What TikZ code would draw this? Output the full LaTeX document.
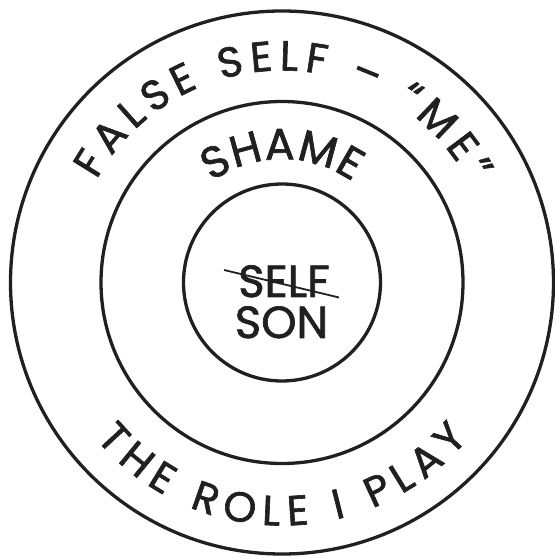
\documentclass[tikz,border=0pt]{standalone}
\usepackage{fontspec}
\usepackage{tikz}
\usetikzlibrary{calc, decorations.text}
\newfontfamily\ringfont[FakeBold=1.5]{Poppins}
\definecolor{ink}{RGB}{35, 31, 32}

\begin{document}
\begin{tikzpicture}[x=1pt, y=1pt,
    ring/.style={line width=3.3pt, ink},
    arctext/.style={decorate, decoration={text along path, text align={fit to path}, text color=ink}},
    word/.style={inner sep=0pt, text=ink, font=\ringfont\fontsize{45}{45}\selectfont},
    strike/.style={line width=1.8pt, ink}]
\useasboundingbox (0,0) rectangle (555,558);
\coordinate (c) at (282,275.5);
% three rings
\draw[ring] (c) circle (271.5);
\draw[ring] (c) circle (181);
\draw[ring] (c) circle (98.5);
% texts on the rings
\path[arctext, decoration={text={|\ringfont\fontsize{42}{42}\selectfont|FALSE SELF – “ME”}}]
    ($(c)+(151:212)$) arc (151:28:212);
\path[arctext, decoration={text={|\ringfont\fontsize{44}{44}\selectfont|SHAME}}]
    ($(c)+(125:123)$) arc (125:55:123);
\path[arctext, decoration={text={|\ringfont\fontsize{42}{42}\selectfont|THE ROLE I PLAY}}]
    ($(c)+(220:243)$) arc (220:320:243);
% centre
\node[word, anchor=base] (self) at ($(c)+(2,-14.5)$) {SELF};
\node[word, anchor=base] (son) at ($(c)+(-0.5,-55.5)$) {SON};
\draw[strike] ($(c)+(-58,12.5)$) -- ($(c)+(57,-15)$);
\end{tikzpicture}
\end{document}
